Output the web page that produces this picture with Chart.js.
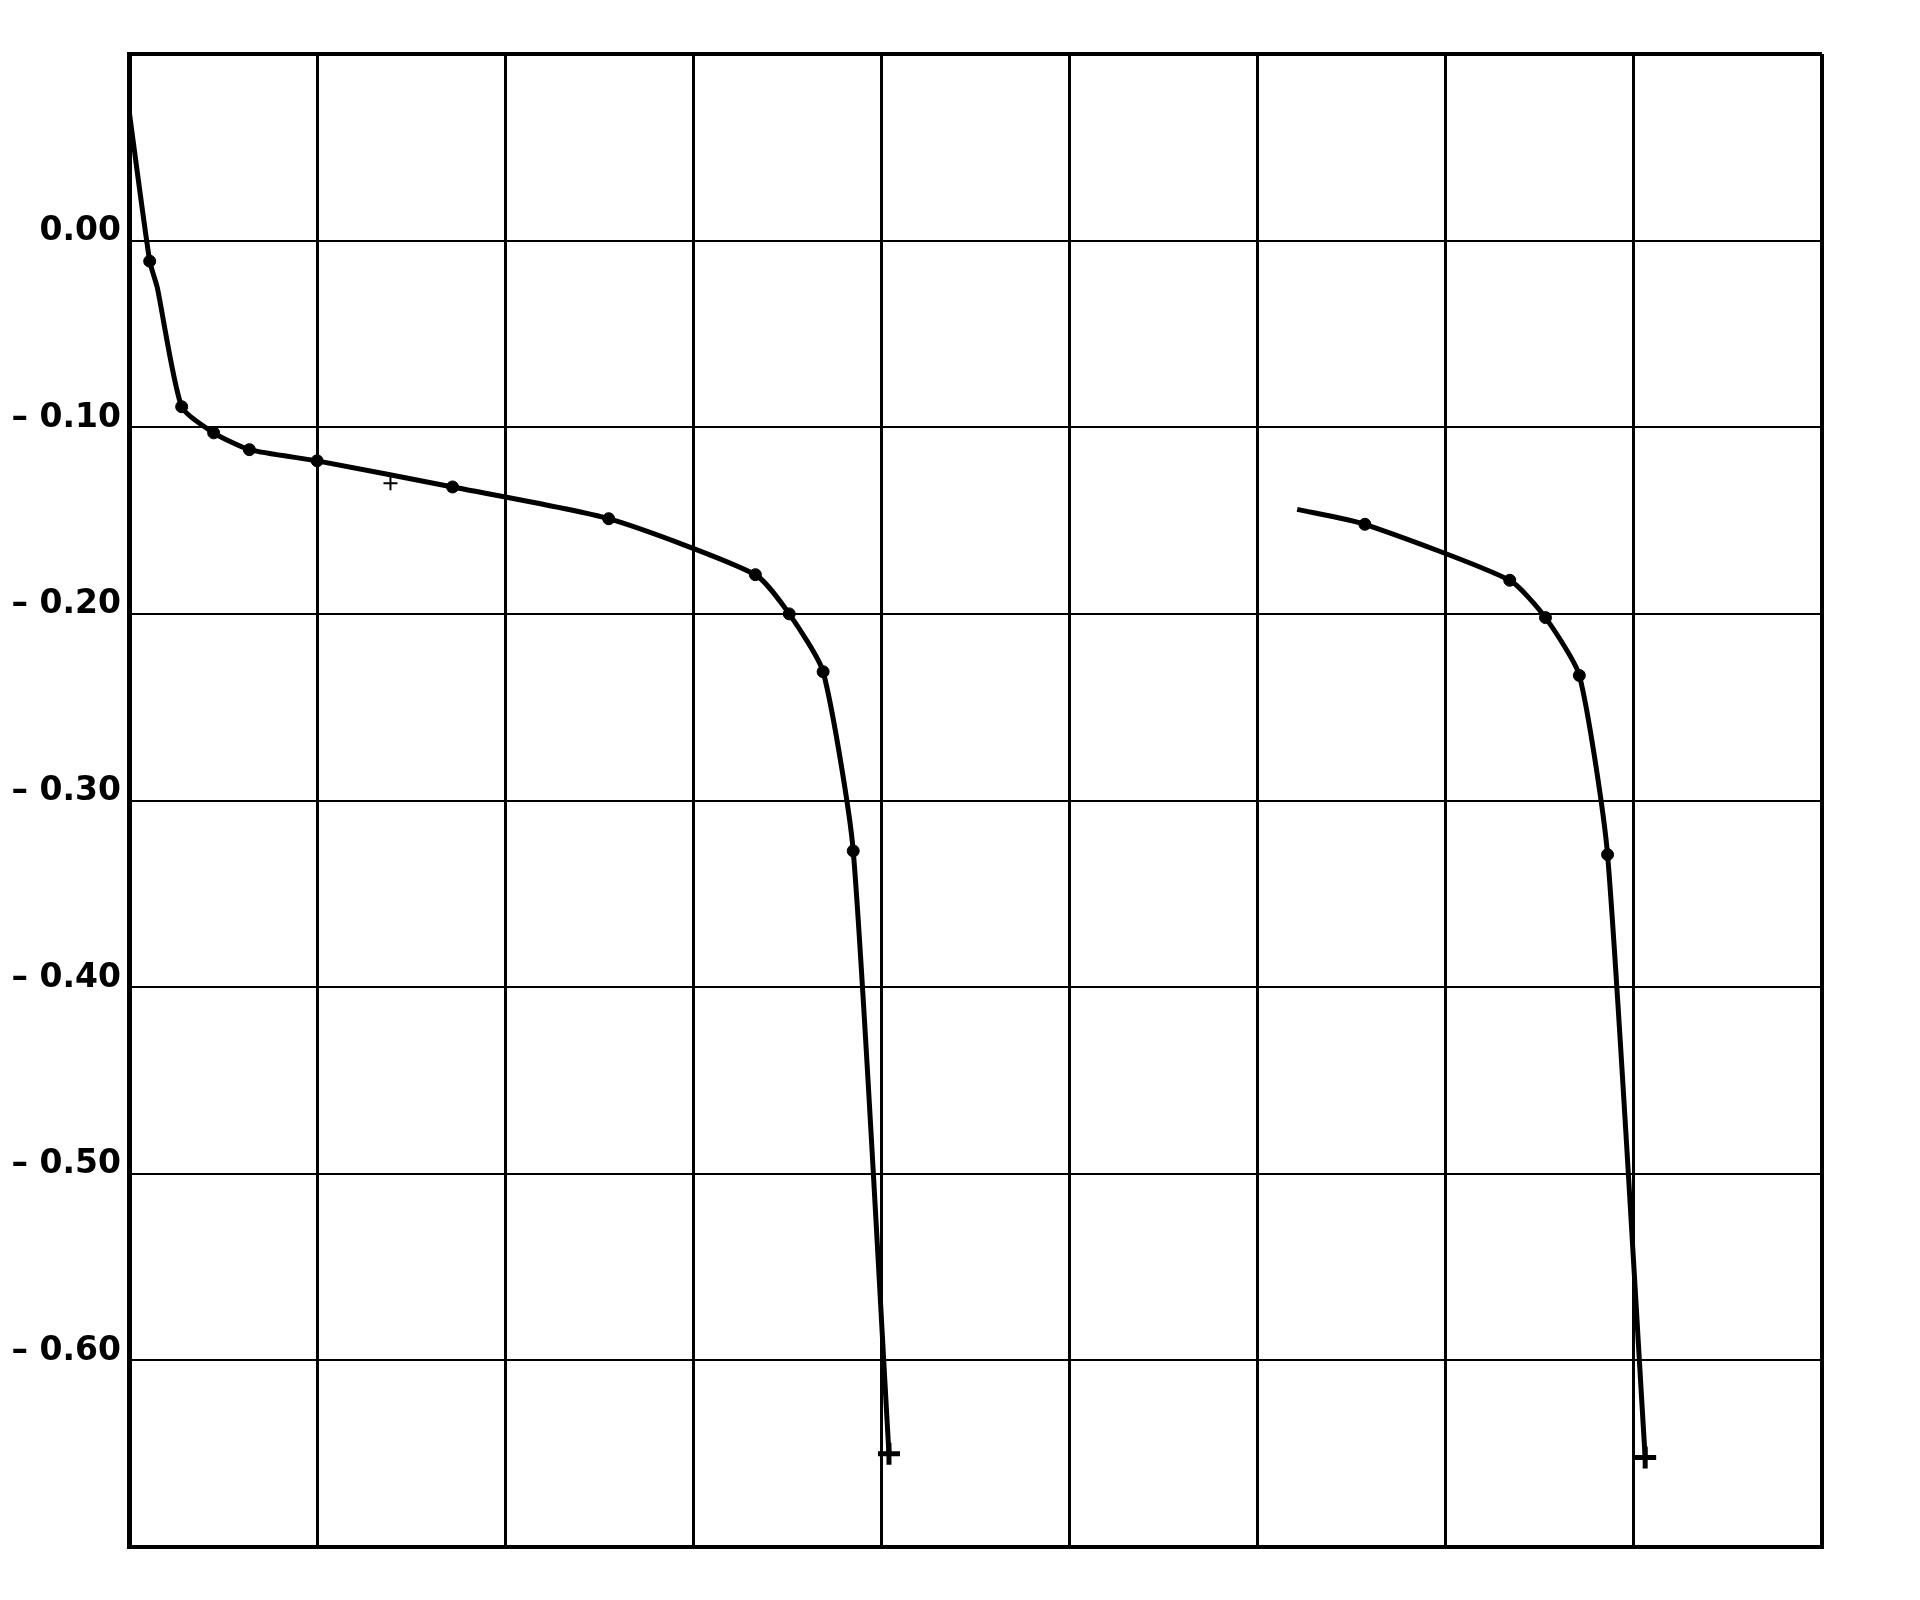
<!DOCTYPE html>
<html>
<head>
<meta charset="utf-8">
<script src="https://cdn.jsdelivr.net/npm/chart.js@4/dist/chart.umd.min.js"></script>
<style>
  html, body { margin: 0; padding: 0; background: #fff; }
  canvas { display: block; }
</style>
</head>
<body>
<canvas id="chart" width="1920" height="1600"></canvas>
<script>
// Axis ticks (x has no labels, only grid columns)
const xGrid = [0, 1, 2, 3, 4, 5, 6, 7, 8, 9];
const yTicks = [-0.70, -0.60, -0.50, -0.40, -0.30, -0.20, -0.10, 0.00, 0.10];
const yTickLabels = ['', '– 0.60', '– 0.50', '– 0.40', '– 0.30', '– 0.20', '– 0.10', '0.00', ''];

// Left curve
const leftX = [0.00, 0.11, 0.15, 0.28, 0.45, 0.64, 1.00, 1.72, 2.55, 3.33, 3.51, 3.69, 3.85, 4.04];
const leftY = [0.070, -0.011, -0.025, -0.089, -0.103, -0.112, -0.118, -0.132, -0.149, -0.179, -0.200, -0.231, -0.327, -0.650];

// Right curve
const rightX = [6.21, 6.57, 7.34, 7.53, 7.71, 7.86, 8.06];
const rightY = [-0.144, -0.152, -0.182, -0.202, -0.233, -0.329, -0.652];

// Stray plus mark under the left curve
const plusX = [1.39];
const plusY = [-0.130];

const toPoints = (xs, ys) => xs.map((x, i) => ({ x: x, y: ys[i] }));

// Points drawn without a dot (guide points of the hand-drawn line)
const leftBare = [0, 2];
const rightBare = [0];

function curveDataset(xs, ys, bare) {
    const last = xs.length - 1;
    return {
        data: toPoints(xs, ys),
        borderColor: '#000',
        backgroundColor: '#000',
        borderWidth: 5,
        tension: 0.2,
        pointStyle: ctx => ctx.dataIndex === last ? 'cross' : 'circle',
        pointRadius: ctx => {
            if (ctx.dataIndex === last) return 11;
            return bare.includes(ctx.dataIndex) ? 0 : 6;
        },
        pointBorderWidth: ctx => ctx.dataIndex === last ? 5 : 1,
        pointHoverRadius: 0
    };
}

new Chart(document.getElementById('chart'), {
    type: 'line',
    data: {
        datasets: [
            curveDataset(leftX, leftY, leftBare),
            curveDataset(rightX, rightY, rightBare),
            {
                data: toPoints(plusX, plusY),
                showLine: false,
                pointStyle: 'cross',
                pointRadius: 7,
                pointBorderWidth: 2,
                borderColor: '#000'
            }
        ]
    },
    options: {
        responsive: false,
        animation: false,
        layout: { padding: { top: 54, right: 98, bottom: 53, left: 0 } },
        plugins: {
            legend: { display: false },
            tooltip: { enabled: false }
        },
        scales: {
            x: {
                type: 'linear',
                min: 0,
                max: 9,
                afterBuildTicks: s => { s.ticks = xGrid.map(v => ({ value: v })); },
                afterFit: s => { s.height = 0; },
                ticks: { display: false },
                grid: {
                    color: '#000',
                    drawTicks: false,
                    lineWidth: ctx => ctx.tick && ctx.tick.value === 9 ? 4 : 3
                },
                border: { display: true, color: '#000', width: 4 }
            },
            y: {
                type: 'linear',
                min: -0.70,
                max: 0.10,
                afterBuildTicks: s => { s.ticks = yTicks.map(v => ({ value: v })); },
                afterFit: s => { s.width = 129; },
                ticks: {
                    color: '#000',
                    padding: 8,
                    labelOffset: -9,
                    font: { family: 'DejaVu Sans', weight: 'bold', size: 33 },
                    callback: v => {
                        const i = yTicks.findIndex(t => Math.abs(t - v) < 1e-6);
                        return i >= 0 ? yTickLabels[i] : '';
                    }
                },
                grid: {
                    color: '#000',
                    drawTicks: false,
                    lineWidth: ctx => ctx.tick && Math.abs(ctx.tick.value - 0.10) < 1e-6 ? 4 : 2
                },
                border: { display: true, color: '#000', width: 5 }
            }
        }
    }
});
</script>
</body>
</html>
